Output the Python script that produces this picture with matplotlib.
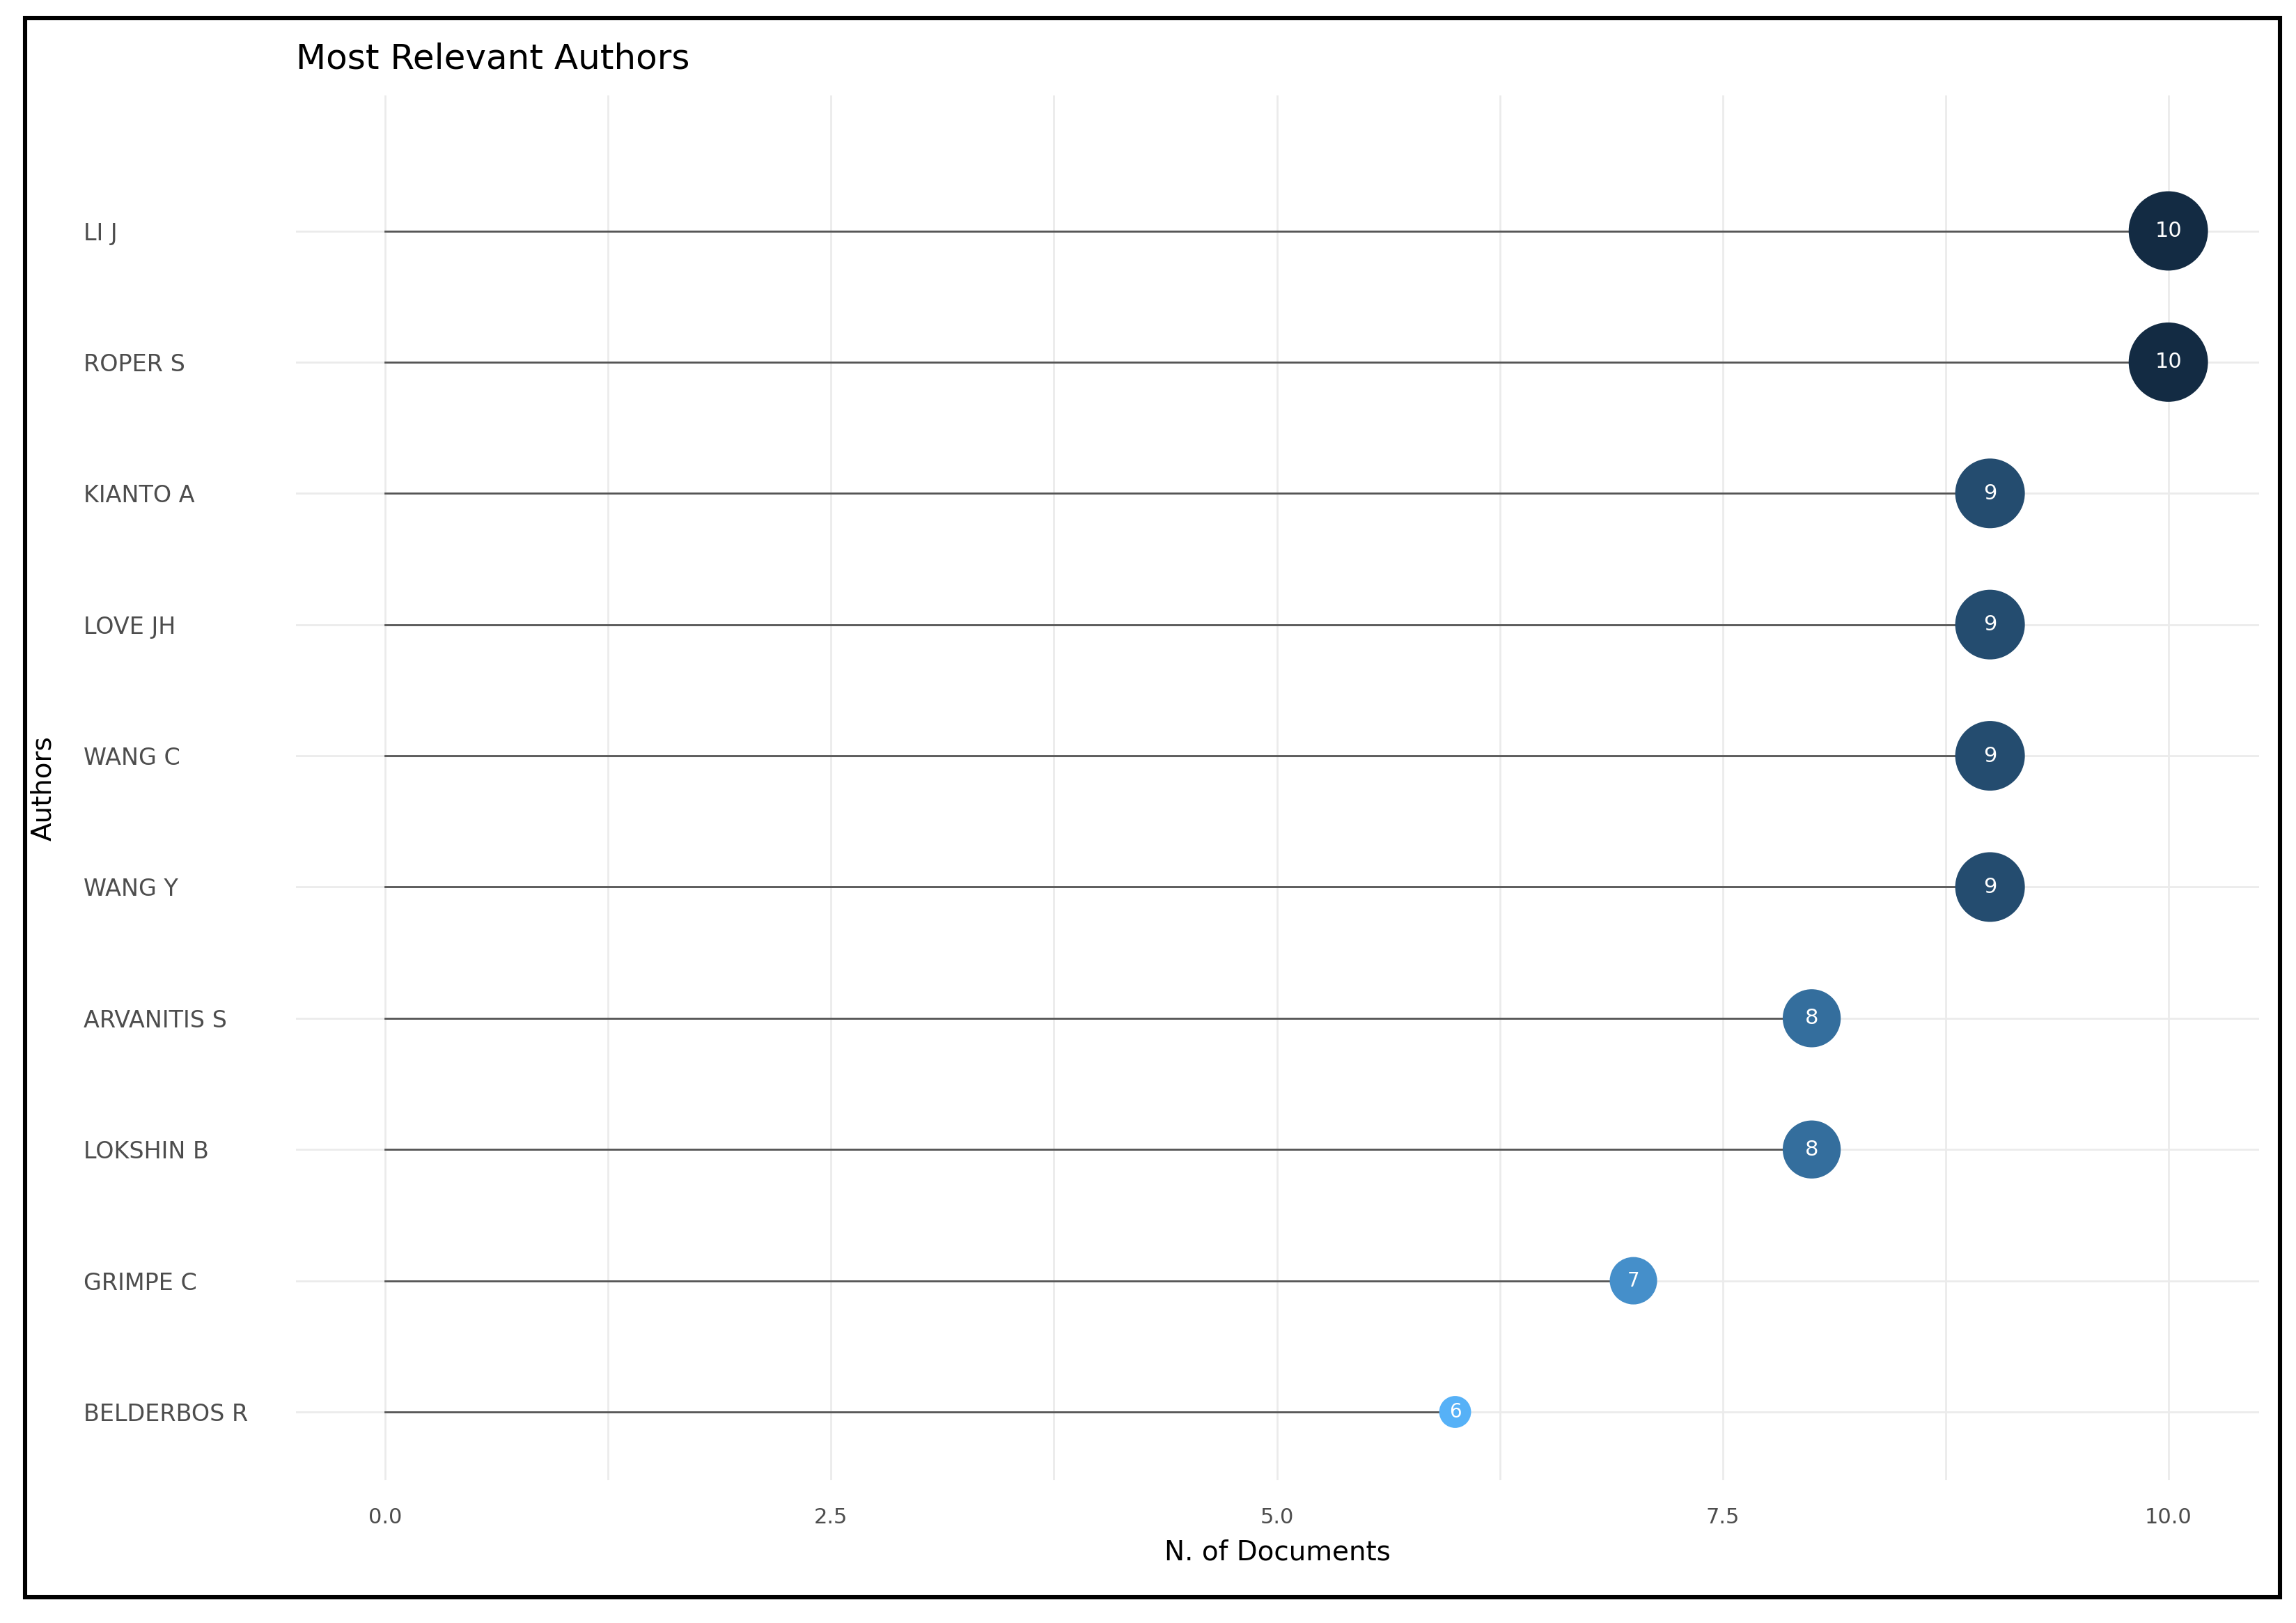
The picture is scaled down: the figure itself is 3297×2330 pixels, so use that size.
import matplotlib
matplotlib.use("Agg")
import matplotlib.pyplot as plt
import numpy as np
from matplotlib.colors import LinearSegmentedColormap
from matplotlib.patches import Rectangle

authors = ["LI J", "ROPER S", "KIANTO A", "LOVE JH", "WANG C", "WANG Y",
           "ARVANITIS S", "LOKSHIN B", "GRIMPE C", "BELDERBOS R"]
docs = [10, 10, 9, 9, 9, 9, 8, 8, 7, 6]
xticks = [0.0, 2.5, 5.0, 7.5, 10.0]

fig = plt.figure(figsize=(16.485, 11.65), dpi=200)
fig.patches.append(Rectangle((0.011, 0.016), 0.982, 0.973, transform=fig.transFigure,
                             fill=False, edgecolor="black", linewidth=2.2))
ax = fig.add_axes([0.129, 0.088, 0.855, 0.853])
cmap = LinearSegmentedColormap.from_list("g", ["#56B1F7", "#132B43"])
n = len(authors)
y = np.arange(n)[::-1]
vals = np.array(docs, dtype=float)
norm = (vals - vals.min()) / (vals.max() - vals.min())
sizes = {10: 41, 9: 36, 8: 30, 7: 24.5, 6: 16.5}
for yi, v, t in zip(y, vals, norm):
    ax.plot([0, v], [yi, yi], color="#555555", lw=1.0, zorder=2)
    ax.scatter(v, yi, s=sizes[int(v)]**2, color=cmap(t), zorder=3, edgecolors="none")
    ax.text(v, yi, str(int(v)), color="white", ha="center", va="center",
            fontsize=11 if v >= 8 else 10, zorder=4)
ax.set_xlim(-0.5, 10.51)
ax.set_ylim(-0.52, n - 1 + 1.03)
ax.set_yticks(y)
ax.set_yticklabels(authors, ha="left")
ax.tick_params(axis="y", pad=110, length=0, labelsize=12, labelcolor="#4D4D4D")
ax.set_xticks(xticks)
ax.set_xticklabels([f"{t:.1f}" for t in xticks])
ax.tick_params(axis="x", length=0, labelsize=11, labelcolor="#4D4D4D", pad=14)
ax.set_xticks([1.25, 3.75, 6.25, 8.75], minor=True)
ax.tick_params(axis="x", which="minor", length=0)
ax.grid(True, which="both", axis="x", color="#EBEBEB", lw=1.0)
ax.grid(True, axis="y", color="#EBEBEB", lw=1.0)
ax.set_axisbelow(True)
for s in ax.spines.values():
    s.set_visible(False)
ax.set_xlabel("N. of Documents", fontsize=14, labelpad=6)
ax.set_ylabel("Authors", fontsize=14)
ax.yaxis.set_label_coords(-0.122, 0.5)
ax.set_title("Most Relevant Authors", fontsize=18, loc="left", x=0.0, pad=14)
fig.savefig("out.png", dpi=200)
